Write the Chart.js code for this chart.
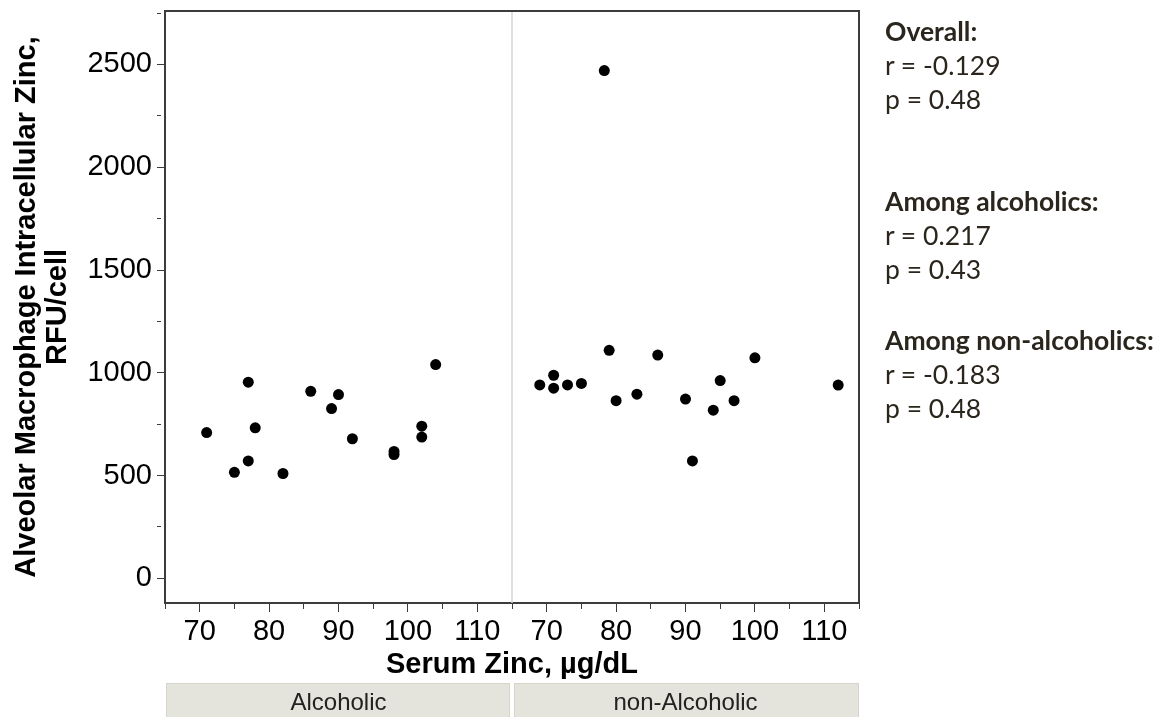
<!DOCTYPE html>
<html>
<head>
<meta charset="utf-8">
<script src="https://cdn.jsdelivr.net/npm/chart.js@4.4.0/dist/chart.umd.min.js"></script>
<style>
  html, body { margin: 0; padding: 0; background: #fff; }
  #wrap { position: relative; width: 1157px; height: 717px; }
  #stats { position: absolute; left: 885px; top: 0; font-family: Lato, "Open Sans", sans-serif;
           color: #2a261d; font-size: 26.5px; line-height: 34px; }
  #stats div { position: absolute; left: 0; white-space: nowrap; }
  #stats .h { font-weight: bold; }
</style>
</head>
<body>
<div id="wrap">
  <canvas id="chart" width="1157" height="717"></canvas>
  <div id="stats"></div>
</div>
<script>
// panels (bottom strips)
var panels = ['Alcoholic', 'non-Alcoholic'];

// alcoholic group: serum zinc (ug/dL) and alveolar macrophage zinc (RFU/cell)
var alcZinc  = [71, 75, 77, 77, 78, 82, 86, 89, 90, 92, 98, 98, 102, 102, 104];
var alcMacro = [709, 516, 954, 571, 732, 510, 910, 826, 894, 679, 617, 602, 740, 687, 1040];

// non-alcoholic group
var nonZinc  = [69, 71, 71, 73, 75, 78.3, 79, 80, 83, 86, 90, 91, 94, 95, 97, 100, 112];
var nonMacro = [941, 988, 925, 941, 948, 2470, 1109, 864, 896, 1086, 872, 571, 818, 962, 864, 1073, 940];

// axis ranges and steps
var xMin = 65, xMax = 115, xStep = 5, xLabelEvery = 10;
var yMin = -120, yMax = 2760, yStep = 250, yLabelEvery = 500;

// correlation text on the right
var statTitles = ['Overall:', 'Among alcoholics:', 'Among non-alcoholics:'];
var statR = ['-0.129', '0.217', '-0.183'];
var statP = ['0.48', '0.43', '0.48'];
var statTops = [14.4, 184.4, 323.4];

var stats = document.getElementById('stats');
statTitles.forEach(function (t, i) {
  var lines = [t, 'r = ' + statR[i], 'p = ' + statP[i]];
  lines.forEach(function (txt, j) {
    var d = document.createElement('div');
    d.textContent = txt;
    if (j === 0) d.className = 'h';
    d.style.top = (statTops[i] + j * 33.7) + 'px';
    stats.appendChild(d);
  });
});

function toPoints(xs, ys) {
  return xs.map(function (x, i) { return { x: x, y: ys[i] }; });
}

var axisColor = '#3c3c3c';
var tickFont = { family: '"Liberation Sans", Arial, sans-serif', size: 29 };

function xScale() {
  return {
    type: 'linear',
    position: 'bottom',
    stack: 'panels',
    stackWeight: 1,
    min: xMin,
    max: xMax,
    grid: {
      display: true, drawOnChartArea: false, drawTicks: true,
      tickLength: 9, tickColor: axisColor, tickWidth: 1,
      tickBorderDash: function (ctx) {
        return ctx.tick && ctx.tick.value % xLabelEvery === 0 ? [] : [5, 50];
      }
    },
    border: { display: true, color: axisColor, width: 2 },
    ticks: {
      stepSize: xStep, autoSkip: false, maxRotation: 0, padding: 3,
      color: '#000', font: tickFont,
      callback: function (v) { return v % xLabelEvery === 0 ? String(v) : ''; }
    },
    afterFit: function (s) { s.height = 47; s.paddingLeft = 0; s.paddingRight = 0; }
  };
}

var panelPlugin = {
  id: 'panelDecor',
  beforeDatasetsDraw: function (chart) {
    var ctx = chart.ctx, a = chart.chartArea, x1 = chart.scales.x1;
    ctx.save();
    // divider between the panels
    ctx.strokeStyle = '#d4d4d4';
    ctx.lineWidth = 1.5;
    ctx.beginPath();
    ctx.moveTo(x1.right, a.top);
    ctx.lineTo(x1.right, a.bottom);
    ctx.stroke();
    // top and right frame
    ctx.strokeStyle = axisColor;
    ctx.lineWidth = 2;
    ctx.beginPath();
    ctx.moveTo(a.left, a.top);
    ctx.lineTo(a.right, a.top);
    ctx.lineTo(a.right, a.bottom);
    ctx.stroke();
    ctx.restore();
  },
  afterDraw: function (chart) {
    var ctx = chart.ctx;
    var scales = [chart.scales.x1, chart.scales.x2];
    var top = chart.height - 34;
    ctx.save();
    scales.forEach(function (s, i) {
      var l = s.left + (i === 0 ? 1 : 2), r = s.right - (i === 0 ? 2 : 0);
      ctx.fillStyle = '#e5e4dc';
      ctx.fillRect(l, top, r - l, chart.height - top);
      ctx.strokeStyle = '#d6d5cc';
      ctx.lineWidth = 1;
      ctx.strokeRect(l + 0.5, top + 0.5, r - l - 1, chart.height - top);
      ctx.fillStyle = '#222';
      ctx.font = '24px "Liberation Sans", Arial, sans-serif';
      ctx.textAlign = 'center';
      ctx.textBaseline = 'alphabetic';
      ctx.fillText(panels[i], (s.left + s.right) / 2, top + 27);
    });
    ctx.restore();
  }
};

new Chart(document.getElementById('chart'), {
  type: 'scatter',
  data: {
    datasets: [{
      label: panels[0],
      data: toPoints(alcZinc, alcMacro),
      xAxisID: 'x1',
      yAxisID: 'y',
      backgroundColor: '#000',
      borderWidth: 0,
      pointRadius: 5.5
    }, {
      label: panels[1],
      data: toPoints(nonZinc, nonMacro),
      xAxisID: 'x2',
      yAxisID: 'y',
      backgroundColor: '#000',
      borderWidth: 0,
      pointRadius: 5.5
    }]
  },
  options: {
    responsive: false,
    animation: false,
    events: [],
    layout: { padding: { left: 0, top: 11, right: 298, bottom: 38 } },
    plugins: {
      legend: { display: false },
      tooltip: { enabled: false },
      title: {
        display: true,
        position: 'bottom',
        fullSize: false,
        text: 'Serum Zinc, \u00b5g/dL',
        color: '#000',
        font: { family: '"Liberation Sans", Arial, sans-serif', size: 29, weight: 'bold', lineHeight: 1.0 },
        padding: { top: 0, bottom: 0 }
      }
    },
    scales: {
      x1: xScale(),
      x2: xScale(),
      y: {
        type: 'linear',
        position: 'left',
        min: yMin,
        max: yMax,
        grid: {
          display: true, drawOnChartArea: false, drawTicks: true,
          tickLength: 8, tickColor: axisColor, tickWidth: 1,
          tickBorderDash: function (ctx) {
            return ctx.tick && ctx.tick.value % yLabelEvery === 0 ? [] : [4, 50];
          }
        },
        border: { display: true, color: axisColor, width: 2 },
        ticks: {
          stepSize: yStep, autoSkip: false, includeBounds: false, padding: 5,
          color: '#000', font: tickFont,
          callback: function (v) { return v % yLabelEvery === 0 ? String(v) : ''; }
        },
        title: {
          display: true,
          text: ['Alveolar Macrophage Intracellular Zinc,', 'RFU/cell'],
          color: '#000',
          font: { family: '"Liberation Sans", Arial, sans-serif', size: 29, weight: 'bold', lineHeight: 1.07 },
          padding: { top: 11, bottom: 0 }
        },
        afterFit: function (s) { s.width = 165; s.paddingTop = 0; s.paddingBottom = 0; }
      }
    }
  },
  plugins: [panelPlugin]
});
</script>
</body>
</html>
